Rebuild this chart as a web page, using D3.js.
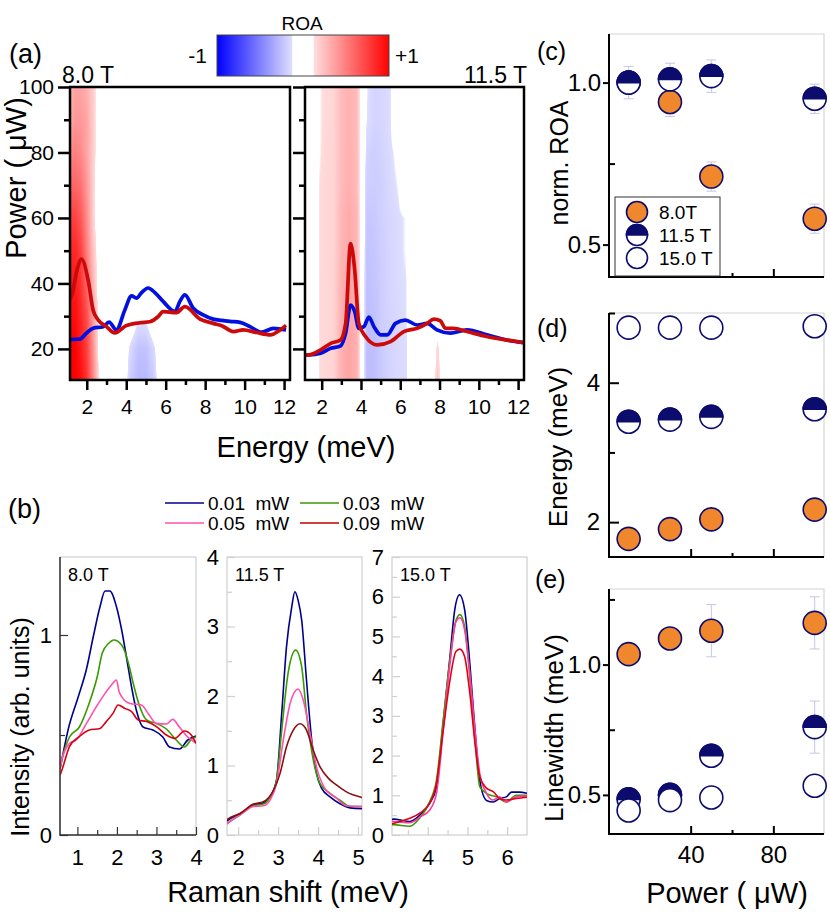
<!DOCTYPE html>
<html>
<head>
<meta charset="utf-8">
<script src="https://cdn.jsdelivr.net/npm/d3@7"></script>
<style>
  body { margin: 0; background: #fff; }
  svg { display: block; font-family: "Liberation Sans", Arial, sans-serif; }
</style>
</head>
<body>
<script>
// ---------- (a) ROA maps ----------
const roaPower = [10, 20, 30, 40, 50, 60, 70, 80, 90, 100];
const roaEnergy8 = [1.1, 1.4, 1.7, 2.0, 2.3, 2.6, 2.9, 3.8, 4.2, 4.6, 5.0, 5.4, 5.8, 12.3];
const roaMap8 = [
  [1.0, 1.0, 0.95, 0.8, 0.5, 0.15, 0, 0, -0.2, -0.28, -0.28, -0.2, 0, 0],
  [1.0, 1.0, 0.9, 0.75, 0.45, 0.1, 0, 0, -0.15, -0.24, -0.24, -0.15, 0, 0],
  [0.95, 0.95, 0.85, 0.7, 0.4, 0.1, 0, 0, 0, -0.1, -0.1, 0, 0, 0],
  [0.9, 0.9, 0.8, 0.6, 0.3, 0.05, 0, 0, 0, 0, 0, 0, 0, 0],
  [0.85, 0.85, 0.75, 0.5, 0.25, 0.05, 0, 0, 0, 0, 0, 0, 0, 0],
  [0.75, 0.75, 0.65, 0.45, 0.2, 0, 0, 0, 0, 0, 0, 0, 0, 0],
  [0.6, 0.6, 0.55, 0.4, 0.2, 0, 0, 0, 0, 0, 0, 0, 0, 0],
  [0.45, 0.5, 0.45, 0.35, 0.2, 0.05, 0, 0, 0, 0, 0, 0, 0, 0],
  [0.3, 0.4, 0.4, 0.35, 0.2, 0.05, 0, 0, 0, 0, 0, 0, 0, 0],
  [0.25, 0.35, 0.35, 0.3, 0.2, 0.05, 0, 0, 0, 0, 0, 0, 0, 0]
];
const roaEnergy11 = [1.15, 1.9, 2.2, 2.6, 3.0, 3.4, 3.8, 4.05, 4.3, 4.7, 5.1, 5.5, 5.9, 6.3, 6.7, 7.6, 7.9, 8.2, 12.3];
const roaMap11 = [
  [0, 0.13, 0.15, 0.16, 0.3, 0.35, 0.3, 0, -0.26, -0.25, -0.2, -0.17, -0.15, -0.14, 0, 0, 0.22, 0, 0],
  [0, 0.13, 0.15, 0.16, 0.3, 0.35, 0.3, 0, -0.26, -0.25, -0.2, -0.17, -0.15, -0.14, 0, 0, 0.16, 0, 0],
  [0, 0.13, 0.15, 0.16, 0.3, 0.35, 0.3, 0, -0.26, -0.24, -0.19, -0.17, -0.15, -0.13, 0, 0, 0, 0, 0],
  [0, 0.13, 0.15, 0.16, 0.3, 0.35, 0.3, 0, -0.25, -0.23, -0.19, -0.16, -0.14, -0.13, 0, 0, 0, 0, 0],
  [0, 0.13, 0.15, 0.16, 0.28, 0.33, 0.28, 0, -0.24, -0.22, -0.19, -0.16, -0.14, -0.12, 0, 0, 0, 0, 0],
  [0, 0.13, 0.15, 0.16, 0.28, 0.33, 0.28, 0, -0.22, -0.21, -0.18, -0.16, -0.14, -0.12, 0, 0, 0, 0, 0],
  [0, 0.13, 0.15, 0.16, 0.26, 0.31, 0.26, 0, -0.19, -0.2, -0.18, -0.15, -0.12, 0, 0, 0, 0, 0, 0],
  [0, 0.12, 0.15, 0.16, 0.26, 0.31, 0.26, 0, -0.17, -0.19, -0.17, -0.14, -0.1, 0, 0, 0, 0, 0, 0],
  [0, 0.12, 0.14, 0.16, 0.26, 0.3, 0.26, 0, -0.13, -0.17, -0.16, -0.13, 0, 0, 0, 0, 0, 0, 0],
  [0, 0.12, 0.14, 0.15, 0.26, 0.3, 0.26, 0, -0.12, -0.17, -0.16, -0.13, 0, 0, 0, 0, 0, 0, 0]
];
// spectra overlaid on the maps, [energy, plotted position in power units]
const a8Blue = [[1.15, 22.8], [1.3, 22.9], [1.64, 23.0], [1.98, 24.8], [2.32, 26.3], [2.83, 26.8], [3.13, 28.2], [3.5, 25.8], [3.93, 31.9], [4.27, 36.2], [4.52, 35.5], [4.78, 37.2], [5.11, 38.6], [5.45, 37.2], [5.87, 34.5], [6.47, 31.4], [6.72, 34.5], [6.97, 36.5], [7.4, 32.4], [7.9, 30.4], [8.41, 29.1], [8.84, 28.7], [9.26, 28.4], [9.77, 28.1], [10.27, 26.8], [10.87, 25.1], [11.46, 26.3], [12.1, 25.8]];
const a8Red = [[1.15, 35], [1.27, 37], [1.5, 44], [1.73, 47.4], [2.07, 41], [2.32, 31.9], [2.57, 28.9], [3.0, 26.8], [3.42, 24.9], [4.0, 27.1], [4.69, 28.0], [5.2, 28.3], [5.62, 29.9], [5.87, 31.4], [6.55, 31.1], [6.97, 32.9], [7.74, 29.1], [8.41, 27.8], [8.84, 27.1], [9.43, 25.3], [9.93, 25.8], [10.6, 25.0], [11.3, 24.3], [11.8, 25.8], [12.1, 27.2]];
const a11Blue = [[1.2, 18.2], [1.36, 18.2], [1.95, 18.7], [2.46, 20.2], [2.96, 20.9], [3.22, 24.8], [3.47, 33.4], [3.68, 31.4], [3.89, 26.3], [4.15, 26.8], [4.4, 29.7], [4.66, 26.8], [5.0, 24.3], [5.34, 24.3], [5.76, 27.8], [6.26, 28.8], [6.86, 27.3], [7.37, 27.8], [7.87, 25.8], [8.55, 24.8], [9.4, 25.8], [10.4, 24.3], [11.43, 22.7], [12.3, 21.9]];
const a11Red = [[1.2, 18.2], [1.36, 18.2], [1.95, 19.7], [2.46, 21.7], [2.96, 22.7], [3.22, 27.8], [3.47, 52.2], [3.68, 44.1], [3.89, 27.8], [4.23, 23.8], [4.83, 21.2], [5.5, 22.2], [6.18, 25.3], [6.86, 26.3], [7.37, 27.8], [7.7, 29.1], [8.04, 28.6], [8.3, 26.3], [8.72, 26.3], [9.4, 25.3], [10.4, 23.8], [11.43, 22.7], [12.3, 21.9]];

// ---------- (b) Raman spectra, [shift, intensity] ----------
const legendPowers = ["0.01  mW", "0.03  mW", "0.05  mW", "0.09  mW"];
const b8Blue = [[0.56, 0.33], [0.6, 0.37], [0.77, 0.53], [1.02, 0.69], [1.23, 0.83], [1.4, 0.99], [1.57, 1.14], [1.7, 1.22], [1.82, 1.22], [1.99, 1.14], [2.12, 1.025], [2.24, 0.89], [2.37, 0.74], [2.49, 0.625], [2.66, 0.54], [2.91, 0.525], [3.16, 0.49], [3.33, 0.44], [3.58, 0.43], [3.79, 0.475], [4.0, 0.495]];
const b8Green = [[0.56, 0.33], [0.6, 0.37], [0.8, 0.49], [1.05, 0.54], [1.3, 0.66], [1.5, 0.79], [1.63, 0.91], [1.8, 0.96], [1.92, 0.975], [2.12, 0.95], [2.29, 0.86], [2.41, 0.76], [2.58, 0.64], [2.75, 0.575], [3.0, 0.558], [3.25, 0.53], [3.5, 0.475], [3.71, 0.44], [3.88, 0.478], [4.0, 0.49]];
const b8Pink = [[0.56, 0.33], [0.6, 0.37], [0.8, 0.458], [0.97, 0.475], [1.23, 0.558], [1.48, 0.642], [1.7, 0.708], [1.86, 0.75], [1.99, 0.775], [2.05, 0.72], [2.12, 0.692], [2.33, 0.658], [2.62, 0.65], [2.79, 0.608], [3.0, 0.558], [3.25, 0.555], [3.41, 0.578], [3.58, 0.54], [3.79, 0.49], [4.0, 0.46]];
const b8Red = [[0.56, 0.3], [0.6, 0.32], [0.8, 0.442], [1.05, 0.492], [1.3, 0.525], [1.57, 0.533], [1.73, 0.567], [1.9, 0.608], [2.03, 0.65], [2.2, 0.633], [2.37, 0.617], [2.54, 0.575], [2.75, 0.567], [3.0, 0.542], [3.25, 0.5], [3.46, 0.483], [3.71, 0.52], [3.88, 0.5], [4.0, 0.458]];
const b11Blue = [[1.72, 0.2], [1.74, 0.21], [2.05, 0.31], [2.38, 0.43], [2.63, 0.465], [2.8, 0.55], [2.96, 0.79], [3.09, 1.75], [3.21, 2.71], [3.34, 3.28], [3.42, 3.5], [3.5, 3.38], [3.59, 3.09], [3.71, 2.23], [3.84, 1.37], [3.96, 0.89], [4.09, 0.67], [4.3, 0.55], [4.55, 0.45], [4.8, 0.39], [5.1, 0.38]];
const b11Green = [[1.72, 0.16], [1.74, 0.17], [2.05, 0.29], [2.38, 0.42], [2.63, 0.445], [2.8, 0.55], [2.96, 0.79], [3.09, 1.51], [3.25, 2.33], [3.44, 2.66], [3.59, 2.42], [3.71, 1.75], [3.88, 1.08], [4.05, 0.74], [4.3, 0.6], [4.55, 0.5], [4.8, 0.41], [5.1, 0.41]];
const b11Pink = [[1.72, 0.16], [1.74, 0.17], [2.05, 0.29], [2.38, 0.41], [2.63, 0.42], [2.8, 0.505], [2.96, 0.74], [3.13, 1.37], [3.3, 1.89], [3.5, 2.1], [3.63, 1.94], [3.8, 1.46], [3.96, 0.98], [4.17, 0.67], [4.46, 0.53], [4.71, 0.42], [5.1, 0.41]];
const b11Red = [[1.72, 0.22], [1.74, 0.23], [2.05, 0.31], [2.38, 0.445], [2.63, 0.48], [2.84, 0.6], [3.05, 0.89], [3.21, 1.27], [3.38, 1.51], [3.55, 1.6], [3.71, 1.51], [3.88, 1.22], [4.05, 0.98], [4.26, 0.815], [4.46, 0.72], [4.71, 0.62], [5.1, 0.54]];
const b15Blue = [[3.1, 0.38], [3.13, 0.4], [3.55, 0.34], [3.8, 0.5], [4.05, 0.8], [4.22, 1.2], [4.39, 2.81], [4.56, 4.49], [4.68, 5.67], [4.8, 6.05], [4.93, 5.67], [5.06, 4.32], [5.19, 2.64], [5.31, 1.38], [5.48, 0.87], [5.65, 0.83], [5.81, 0.92], [5.98, 0.96], [6.11, 1.08], [6.3, 1.08], [6.5, 1.05]];
const b15Green = [[3.1, 0.25], [3.13, 0.26], [3.55, 0.22], [3.8, 0.43], [4.05, 0.84], [4.22, 1.38], [4.39, 2.9], [4.56, 4.41], [4.71, 5.4], [4.81, 5.55], [4.93, 5.24], [5.06, 3.98], [5.19, 2.39], [5.31, 1.22], [5.48, 1.05], [5.73, 0.96], [5.98, 0.83], [6.23, 1.0], [6.5, 1.0]];
const b15Pink = [[3.1, 0.33], [3.13, 0.34], [3.55, 0.31], [3.8, 0.45], [4.05, 0.63], [4.22, 1.05], [4.39, 2.64], [4.56, 4.32], [4.71, 5.37], [4.81, 5.47], [4.93, 5.16], [5.06, 4.07], [5.19, 2.64], [5.31, 1.55], [5.48, 1.05], [5.65, 0.88], [5.81, 0.96], [5.98, 0.83], [6.23, 0.96], [6.5, 0.98]];
const b15Red = [[3.1, 0.28], [3.13, 0.29], [3.55, 0.42], [3.8, 0.55], [4.05, 0.8], [4.22, 1.3], [4.39, 2.64], [4.56, 3.9], [4.71, 4.62], [4.81, 4.68], [4.93, 4.49], [5.06, 3.57], [5.19, 2.31], [5.31, 1.47], [5.48, 1.18], [5.65, 1.09], [5.81, 0.92], [5.98, 0.88], [6.23, 0.92], [6.5, 0.95]];

// ---------- (c)-(e) fit results vs power ----------
const powers = [10, 30, 50, 100];
const roa8 = [1.0, 0.94, 0.71, 0.58], roa8Err = [0, 0.045, 0.045, 0.045];
const roa11 = [1.0, 1.01, 1.02, 0.95], roa11Err = [0.05, 0.05, 0.05, 0.045];
const energy8 = [1.76, 1.9, 2.04, 2.18], energy8Err = [0.03, 0.03, 0.05, 0.06];
const energy11 = [3.44, 3.47, 3.51, 3.62];
const energy15 = [4.79, 4.79, 4.79, 4.81];
const width8 = [1.04, 1.1, 1.13, 1.16], width8Err = [0.03, 0.03, 0.1, 0.1];
const width11 = [0.483, 0.5, 0.65, 0.76], width11Err = [0.02, 0.02, 0.03, 0.1];
const width15 = [0.44, 0.48, 0.49, 0.535], width15Err = [0.04, 0.03, 0.02, 0.02];

const NAVY = "#0c0c6e", ORANGE = "#f0872c";
const svg = d3.select("body").append("svg").attr("width", 830).attr("height", 913);

const roaColor = d3.scaleLinear()
  .domain([-1, -0.13, -0.12, 0.12, 0.13, 1])
  .range(["#0000ff", "#dedeff", "#ffffff", "#ffffff", "#ffdcdc", "#ff0000"])
  .clamp(true);

function txt(g, x, y, s, size, anchor) {
  return g.append("text").attr("x", x).attr("y", y).attr("font-size", size)
    .attr("text-anchor", anchor || "start").style("white-space", "pre").text(s);
}
function vtxt(g, x, y, s, size) {
  return g.append("text").attr("transform", `translate(${x},${y}) rotate(-90)`)
    .attr("font-size", size).attr("text-anchor", "middle").text(s);
}
function styleAxis(g, color, width, size) {
  g.select(".domain").remove();
  g.selectAll("line").attr("stroke", color).attr("stroke-width", width);
  g.selectAll("text").attr("fill", "#000").attr("font-size", size);
  g.attr("font-family", null);
}

// ---------- panel (a) ----------
const ay = d3.scaleLinear([10.5, 100], [380, 87]);
const axL = d3.scaleLinear([1.15, 12.3], [70, 290]);
const axR = d3.scaleLinear([1.15, 12.3], [305, 524]);

function heatmap(g, x, y, Es, Ps, M) {
  const [x0, x1] = x.range(), [yb, yt] = y.range();
  const w = Math.round(x1 - x0), h = Math.round(yb - yt);
  const canvas = document.createElement("canvas");
  canvas.width = w; canvas.height = h;
  const ctx = canvas.getContext("2d");
  const img = ctx.createImageData(w, h);
  const locate = (arr, v) => {
    const i = Math.max(0, Math.min(arr.length - 2, d3.bisectRight(arr, v) - 1));
    const t = Math.max(0, Math.min(1, (v - arr[i]) / (arr[i + 1] - arr[i])));
    return [i, t];
  };
  for (let j = 0; j < h; j++) {
    const [pi, pt] = locate(Ps, y.invert(yt + j + 0.5));
    for (let i = 0; i < w; i++) {
      const [ei, et] = locate(Es, x.invert(x0 + i + 0.5));
      const v = (1 - pt) * ((1 - et) * M[pi][ei] + et * M[pi][ei + 1]) +
                pt * ((1 - et) * M[pi + 1][ei] + et * M[pi + 1][ei + 1]);
      const c = d3.rgb(roaColor(v));
      const k = 4 * (j * w + i);
      img.data[k] = c.r; img.data[k + 1] = c.g; img.data[k + 2] = c.b; img.data[k + 3] = 255;
    }
  }
  ctx.putImageData(img, 0, 0);
  g.append("image").attr("x", x0).attr("y", yt).attr("width", w).attr("height", h)
    .attr("preserveAspectRatio", "none").attr("href", canvas.toDataURL());
}

function mapPanel(x, Es, M, blue, red, id, labels) {
  const g = svg.append("g");
  heatmap(g, x, ay, Es, roaPower, M);
  g.append("clipPath").attr("id", id).append("rect")
    .attr("x", x.range()[0]).attr("y", ay.range()[1])
    .attr("width", x.range()[1] - x.range()[0]).attr("height", ay.range()[0] - ay.range()[1]);
  const line = d3.line().x(d => x(d[0])).y(d => ay(d[1])).curve(d3.curveMonotoneX);
  g.append("path").datum(blue).attr("clip-path", `url(#${id})`).attr("d", line)
    .attr("fill", "none").attr("stroke", "#0010e0").attr("stroke-width", 3.7).attr("stroke-linejoin", "round");
  g.append("path").datum(red).attr("clip-path", `url(#${id})`).attr("d", line)
    .attr("fill", "none").attr("stroke", "#cc0a0a").attr("stroke-width", 3.7).attr("stroke-linejoin", "round");

  const x0 = x.range()[0];
  g.append("g").attr("transform", `translate(${x0},0)`)
    .call(d3.axisLeft(ay).tickValues([20, 40, 60, 80, 100]).tickSize(12).tickPadding(4)
      .tickFormat(labels ? d3.format("d") : ""))
    .call(a => styleAxis(a, "#000", 2.5, 21));
  g.append("g").attr("transform", `translate(${x0},0)`)
    .call(d3.axisLeft(ay).tickValues([30, 50, 70, 90]).tickSize(6).tickFormat(""))
    .call(a => styleAxis(a, "#000", 2.5, 21));
  g.append("g").attr("transform", `translate(0,${ay.range()[0]})`)
    .call(d3.axisBottom(x).tickValues([2, 4, 6, 8, 10, 12]).tickSize(10).tickPadding(9))
    .call(a => styleAxis(a, "#000", 2.5, 21));
  g.append("g").attr("transform", `translate(0,${ay.range()[0]})`)
    .call(d3.axisBottom(x).tickValues([3, 5, 7, 9, 11]).tickSize(5).tickFormat(""))
    .call(a => styleAxis(a, "#000", 2.5, 21));
  g.append("rect").attr("x", x0).attr("y", ay.range()[1])
    .attr("width", x.range()[1] - x0).attr("height", ay.range()[0] - ay.range()[1])
    .attr("fill", "none").attr("stroke", "#000").attr("stroke-width", 2.5);
}
mapPanel(axL, roaEnergy8, roaMap8, a8Blue, a8Red, "clipL", true);
mapPanel(axR, roaEnergy11, roaMap11, a11Blue, a11Red, "clipR", false);

txt(svg, 9, 63, "(a)", 27);
txt(svg, 62, 83, "8.0 T", 23);
txt(svg, 527, 83, "11.5 T", 23, "end");
vtxt(svg, 26, 178, "Power ( \u03bcW)", 29);
txt(svg, 306, 457, "Energy (meV)", 29, "middle");

// colour bar
const cbar = d3.scaleLinear([-1, 1], [217, 389]);
const grad = svg.append("defs").append("linearGradient").attr("id", "roaGrad");
grad.selectAll("stop").data(d3.range(-1, 1.0001, 0.01)).join("stop")
  .attr("offset", d => (cbar(d) - 217) / 172).attr("stop-color", d => roaColor(d));
svg.append("rect").attr("x", cbar(-1)).attr("y", 35).attr("width", cbar(1) - cbar(-1)).attr("height", 41)
  .attr("fill", "url(#roaGrad)").attr("stroke", "#444").attr("stroke-width", 1);
txt(svg, 302, 30, "ROA", 19, "middle");
txt(svg, 207, 63, "-1", 21, "end");
txt(svg, 395, 63, "+1", 21);

// ---------- panel (b) ----------
const bColors = ["#00008b", "#3a9a00", "#ff4fb0", "#d80010"];
txt(svg, 8, 518, "(b)", 27);
[[165, 503, 0], [300, 503, 1], [165, 523, 2], [300, 523, 3]].forEach(([lx, ly, i]) => {
  svg.append("line").attr("x1", lx).attr("x2", lx + 39).attr("y1", ly).attr("y2", ly)
    .attr("stroke", i === 3 ? "#c00000" : bColors[i]).attr("stroke-width", 1.5);
  txt(svg, lx + 43, ly + 7, legendPowers[i], 19);
});

function ramanPanel(c) {
  const x = d3.scaleLinear(c.xDomain, c.xRange);
  const y = d3.scaleLinear(c.yDomain, [835, 557]);
  const g = svg.append("g");
  const [x0, x1] = c.xRange;
  g.append("rect").attr("x", x0).attr("y", 557).attr("width", x1 - x0).attr("height", 278)
    .attr("fill", "none").attr("stroke", "#cfcfcf").attr("stroke-width", 1.2);
  g.append("clipPath").attr("id", c.id).append("rect")
    .attr("x", x0).attr("y", 557).attr("width", x1 - x0).attr("height", 278);
  const line = d3.line().x(d => x(d[0])).y(d => y(d[1])).curve(d3.curveMonotoneX);
  c.series.forEach((s, i) => {
    g.append("path").datum(s).attr("clip-path", `url(#${c.id})`).attr("d", line)
      .attr("fill", "none").attr("stroke", c.colors[i]).attr("stroke-width", 1.6);
  });
  const col = c.dark ? "#333" : "#cfcfcf";
  g.append("g").attr("transform", `translate(${x0},0)`)
    .call(d3.axisLeft(y).tickValues(c.yMajor).tickSize(-8).tickPadding(8).tickFormat(d3.format("d")))
    .call(a => styleAxis(a, col, 1.2, 22));
  g.append("g").attr("transform", `translate(${x0},0)`)
    .call(d3.axisLeft(y).tickValues(c.yMinor).tickSize(-5).tickFormat(""))
    .call(a => styleAxis(a, col, 1.2, 22));
  g.append("g").attr("transform", "translate(0,835)")
    .call(d3.axisBottom(x).tickValues(c.xMajor).tickSize(-8).tickPadding(14).tickFormat(d3.format("d")))
    .call(a => styleAxis(a, col, 1.2, 22));
  g.append("g").attr("transform", "translate(0,835)")
    .call(d3.axisBottom(x).tickValues(c.xMinor).tickSize(-5).tickFormat(""))
    .call(a => styleAxis(a, col, 1.2, 22));
  if (c.dark) {
    g.append("path").attr("d", `M${x0},557V835H${x1}`).attr("fill", "none")
      .attr("stroke", "#333").attr("stroke-width", 1.5);
  }
  txt(g, x0 + 8, 581, c.label, 18);
}
ramanPanel({ id: "b8", label: "8.0 T", dark: true, xDomain: [0.56, 4.0], xRange: [60, 196], yDomain: [0, 1.39],
  yMajor: [0, 1], yMinor: [0.5], xMajor: [1, 2, 3, 4], xMinor: [1.5, 2.5, 3.5],
  series: [b8Blue, b8Green, b8Pink, b8Red], colors: bColors });
ramanPanel({ id: "b11", label: "11.5 T", dark: false, xDomain: [1.72, 5.1], xRange: [227, 362], yDomain: [0, 4],
  yMajor: [0, 1, 2, 3, 4], yMinor: [0.5, 1.5, 2.5, 3.5], xMajor: [2, 3, 4, 5], xMinor: [2.5, 3.5, 4.5],
  series: [b11Blue, b11Green, b11Pink, b11Red], colors: ["#00008b", "#3a9a00", "#ff4fb0", "#8e0e0e"] });
ramanPanel({ id: "b15", label: "15.0 T", dark: false, xDomain: [3.1, 6.5], xRange: [392, 527], yDomain: [0, 7],
  yMajor: [0, 1, 2, 3, 4, 5, 6, 7], yMinor: [0.5, 1.5, 2.5, 3.5, 4.5, 5.5, 6.5], xMajor: [4, 5, 6], xMinor: [3.5, 4.5, 5.5],
  series: [b15Blue, b15Green, b15Pink, b15Red], colors: ["#00008b", "#3a9a00", "#ff3a9a", "#e00018"] });
vtxt(svg, 29, 727, "Intensity (arb. units)", 25);
txt(svg, 288, 902, "Raman shift (meV)", 29, "middle");

// ---------- panels (c)-(e) ----------
const px = d3.scaleLinear([0.5, 104.5], [609, 824]);

function marker(g, kind, cx, cy, r) {
  const m = g.append("g").attr("transform", `translate(${cx},${cy})`);
  if (kind === "full") {
    m.append("circle").attr("r", r).attr("fill", ORANGE).attr("stroke", NAVY).attr("stroke-width", 1.6);
  } else {
    m.append("circle").attr("r", r).attr("fill", "#fff").attr("stroke", NAVY).attr("stroke-width", 1.6);
    if (kind === "half") {
      m.append("path").attr("d", `M${-r},0A${r},${r} 0 0 1 ${r},0Z`).attr("fill", NAVY)
        .attr("stroke", NAVY).attr("stroke-width", 1.6);
    }
  }
}

function fitPanel(c) {
  const y = d3.scaleLinear(c.yDomain, c.yRange);
  const g = svg.append("g");
  const [yb, yt] = c.yRange;
  g.append("path").attr("d", `M609,${yt}H824V${yb}`).attr("fill", "none").attr("stroke", "#d4d4d4").attr("stroke-width", 1.2);
  g.append("g").attr("transform", "translate(609,0)")
    .call(d3.axisLeft(y).tickValues(c.yMajor).tickSize(c.majorIn ? -10 : 6).tickPadding(c.majorIn ? 9 : 2).tickFormat(d3.format(c.fmt)))
    .call(a => styleAxis(a, "#000", 2, 24));
  g.append("g").attr("transform", "translate(609,0)")
    .call(d3.axisLeft(y).tickValues(c.yMinor).tickSize(-6).tickFormat(""))
    .call(a => styleAxis(a, "#000", 2, 24));
  g.append("g").attr("transform", `translate(0,${yb})`)
    .call(d3.axisBottom(px).tickValues([40, 80]).tickSize(-8).tickPadding(12).tickFormat(c.xLabels ? d3.format("d") : ""))
    .call(a => styleAxis(a, "#000", 2, 24));
  g.append("g").attr("transform", `translate(0,${yb})`)
    .call(d3.axisBottom(px).tickValues([60]).tickSize(-4).tickFormat(""))
    .call(a => styleAxis(a, "#000", 2, 24));
  g.append("path").attr("d", `M609,${yt}V${yb}H824`).attr("fill", "none").attr("stroke", "#000").attr("stroke-width", 2);

  c.series.forEach(s => {
    s.values.forEach((v, i) => {
      const e = s.err ? s.err[i] : 0;
      if (e > 0) {
        const xx = px(powers[i]);
        g.append("path").attr("d", `M${xx},${y(v - e)}V${y(v + e)}M${xx - 5},${y(v - e)}h10M${xx - 5},${y(v + e)}h10`)
          .attr("stroke", "#c6c6e4").attr("stroke-width", 1).attr("fill", "none");
      }
    });
  });
  c.series.forEach(s => {
    s.values.forEach((v, i) => marker(g, s.kind, px(powers[i]), y(v), 11.5));
  });
  return g;
}

fitPanel({ yDomain: [0.40, 1.15], yRange: [277, 34], yMajor: [0.5, 1.0], yMinor: [0.75], fmt: ".1f",
  series: [
    { kind: "full", values: roa8, err: roa8Err },
    { kind: "half", values: roa11, err: roa11Err }
  ] });
fitPanel({ yDomain: [1.5, 5.0], yRange: [557, 313], yMajor: [2, 4], yMinor: [3, 5], fmt: "d", majorIn: true,
  series: [
    { kind: "full", values: energy8, err: energy8Err },
    { kind: "half", values: energy11 },
    { kind: "open", values: energy15 }
  ] });
fitPanel({ yDomain: [0.35, 1.29], yRange: [834, 589], yMajor: [0.5, 1.0], yMinor: [0.75, 1.25], fmt: ".1f", xLabels: true,
  series: [
    { kind: "full", values: width8, err: width8Err },
    { kind: "half", values: width11, err: width11Err },
    { kind: "open", values: width15, err: width15Err }
  ] });

// legend in (c)
const leg = svg.append("g");
leg.append("rect").attr("x", 615).attr("y", 197).attr("width", 105).attr("height", 79)
  .attr("fill", "#fff").attr("stroke", "#333").attr("stroke-width", 1);
[["full", "8.0T"], ["half", "11.5 T"], ["open", "15.0 T"]].forEach(([k, s], i) => {
  marker(leg, k, 637, 212 + i * 23, 10.5);
  txt(leg, 659, 219 + i * 23, s, 19);
});

txt(svg, 537, 60, "(c)", 25);
txt(svg, 537, 337, "(d)", 25);
txt(svg, 535, 588, "(e)", 25);
vtxt(svg, 568, 163, "norm. ROA", 25);
vtxt(svg, 567, 447, "Energy (meV)", 26);
vtxt(svg, 563, 728, "Linewidth (meV)", 26);
txt(svg, 727, 903, "Power ( \u03bcW)", 29, "middle");
</script>
</body>
</html>
